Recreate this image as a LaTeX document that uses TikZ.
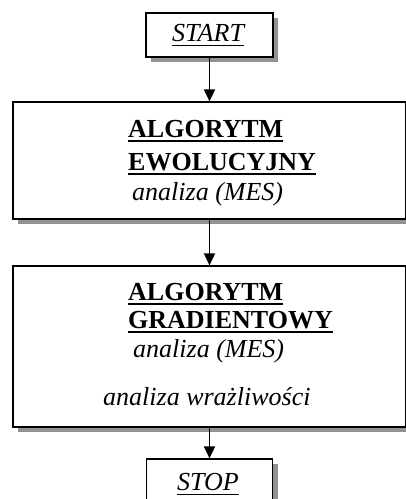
\documentclass[tikz,border=0pt]{standalone}
\usepackage{fontspec}
\setmainfont{Liberation Serif}
\usetikzlibrary{positioning}
\usetikzlibrary{arrows.meta}
\usetikzlibrary{shadows}

% underline of given thickness, at a fixed depth
\newcommand{\ulthick}[2]{\setbox0=\hbox{#2}\copy0\llap{\rule[-4.5pt]{\wd0}{#1}}}

\begin{document}
\begin{tikzpicture}[x=1pt,y=-1pt,
        box/.style={draw, line width=1.2pt, fill=white, inner sep=0pt,
            general shadow={fill=gray!85, shadow xshift=5pt, shadow yshift=-5pt}},
        head/.style={anchor=base west, inner sep=0pt, font=\fontsize{26}{30}\selectfont\bfseries},
        note/.style={anchor=base west, inner sep=0pt, font=\fontsize{26}{30}\selectfont\itshape},
        arr/.style={line width=1.8pt, -{Triangle[width=11pt,length=12pt]}}]
            \useasboundingbox (0,0) rectangle (406,499);
            \node(start) [box, minimum width=127pt, minimum height=44pt] at (209.5,35) {};
            \node(evo) [box, minimum width=393pt, minimum height=117pt] at (209.5,160.5) {};
            \node(grad) [box, minimum width=393pt, minimum height=161pt] at (209.5,346.5) {};
            \node(stop) [box, minimum width=126pt, minimum height=44pt] at (209.5,481) {};

            % texts
            \node(starttxt) [note] at (172,41) {\ulthick{0.9pt}{START}};
            \node(evo1) [head] at (128,137) {\ulthick{1.5pt}{ALGORYTM}};
            \node(evo2) [head] at (128,170) {\ulthick{1.5pt}{EWOLUCYJNY}};
            \node(evo3) [note] at (132,200) {analiza (MES)};
            \node(grad1) [head] at (128,300) {\ulthick{1.5pt}{ALGORYTM}};
            \node(grad2) [head] at (128,328) {\ulthick{1.5pt}{GRADIENTOWY}};
            \node(grad3) [note] at (133,357) {analiza (MES)};
            \node(grad4) [note] at (103,405) {analiza wrażliwości};
            \node(stoptxt) [note] at (177,490) {\ulthick{0.9pt}{STOP}};

            \draw[arr] (start) -- (evo);
            \draw[arr] (evo) -- (grad);
            \draw[arr] (grad) -- (stop);
        \end{tikzpicture}
\end{document}
